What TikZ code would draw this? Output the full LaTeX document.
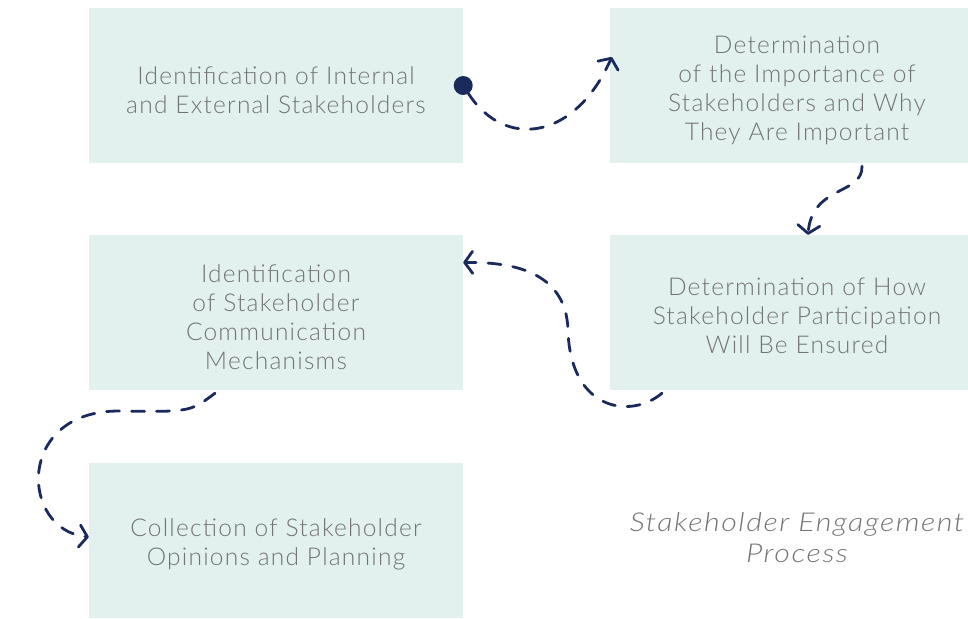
\documentclass[tikz,border=0pt]{standalone}
\usepackage{fontspec}
\setmainfont{Lato Light}
\newfontfamily\boxfont[LetterSpace=5]{Lato Light}
\newfontfamily\titlefont[LetterSpace=5]{Lato Light Italic}
\usetikzlibrary{arrows.meta}
\definecolor{boxfill}{HTML}{E2F1EE}
\definecolor{navy}{HTML}{1B2A5C}
\definecolor{txt}{HTML}{747474}
\begin{document}
\begin{tikzpicture}[x=1pt,y=-1pt,
  stagebox/.style={fill=boxfill,draw=none,minimum width=374pt,minimum height=155pt,inner sep=0pt},
  boxtext/.style={inner sep=0pt,align=center,text=txt,font=\boxfont\fontsize{24.5}{29}\selectfont},
  flow/.style={draw=navy,line width=2.8pt,dash pattern=on 13pt off 12pt,line cap=round,
    -{Straight Barb[length=8pt,width=22pt,line width=2.8pt,round]}},
  dotnode/.style={circle,fill=navy,inner sep=0pt,minimum size=19pt}]
\useasboundingbox (0,0) rectangle (968,618);
\node[stagebox] (b1) at (276,85.5) {};
\node[stagebox] (b2) at (797,85.5) {};
\node[stagebox] (b3) at (276,312.5) {};
\node[stagebox] (b4) at (797,312.5) {};
\node[stagebox] (b5) at (276,540) {};
\node[boxtext] (t1) at ([yshift=-4.5pt]b1.center) {Identification of Internal\\and External Stakeholders};
\node[boxtext] (t2) at ([yshift=-4.5pt]b2.center) {Determination\\of the Importance of\\Stakeholders and Why\\They Are Important};
\node[boxtext] (t3) at ([yshift=-4.5pt]b3.center) {Identification\\of Stakeholder\\Communication\\Mechanisms};
\node[boxtext] (t4) at ([yshift=-3.5pt]b4.center) {Determination of How\\Stakeholder Participation\\Will Be Ensured};
\node[boxtext] (t5) at ([yshift=-4.5pt]b5.center) {Collection of Stakeholder\\Opinions and Planning};
\node[inner sep=0pt,text=txt,font=\titlefont\fontsize{26}{31}\selectfont] (title) at (797,541)
  {\scalebox{1.17}[1]{\begin{tabular}{@{}c@{}}Stakeholder Engagement\\Process\end{tabular}}};
\node[dotnode] (d1) at (b1.east) {};
\draw[flow] (d1) .. controls (505,150) and (575,140) .. ([xshift=2pt,yshift=28.5pt]b2.west);
\draw[flow] ([xshift=65pt,yshift=-3pt]b2.south) .. controls (863,195) and (812,185) .. ([xshift=11pt]b4.north);
\draw[flow] ([xshift=-135pt,yshift=-3pt]b4.south) .. controls (630,420) and (570,410) .. (568,330) .. controls (566,270) and (510,262) .. ([yshift=50pt]b3.east);
\draw[flow] ([xshift=-61pt,yshift=-3pt]b3.south) .. controls (190,412) .. (120,411) .. controls (15,410) and (20,530) .. ([yshift=3pt]b5.west);
\end{tikzpicture}
\end{document}
